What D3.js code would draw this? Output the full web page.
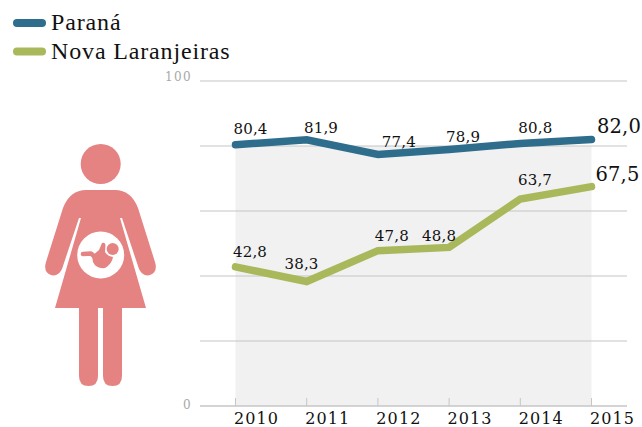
<!DOCTYPE html>
<html>
<head>
<meta charset="utf-8">
<script src="https://cdn.jsdelivr.net/npm/d3@7"></script>
<style>
html,body{margin:0;padding:0;background:#fff;overflow:hidden}
svg{display:block}
text{font-family:"Liberation Serif",serif;fill:#111}
.num{font-family:"DejaVu Serif",serif}
</style>
</head>
<body>
<svg id="c" width="642" height="427"></svg>
<script>
const years = [2010, 2011, 2012, 2013, 2014, 2015];
const parana = [80.4, 81.9, 77.4, 78.9, 80.8, 82.0];
const novaLaranjeiras = [42.8, 38.3, 47.8, 48.8, 63.7, 67.5];
const seriesNames = ["Paraná", "Nova Laranjeiras"];
const yTicks = [0, 20, 40, 60, 80, 100];
const yTickLabels = ["0", "", "", "", "", "100"];
const paranaLabelOffset = [[15,-11],[14.3,-7],[21,-7.4],[14,-8],[15,-10.7],[27.5,-7]];
const novaLabelOffset = [[14.5,-10],[-5.2,-12.5],[14,-9.6],[-10,-6.4],[14.7,-14],[26,-5.6]];

const svg = d3.select("#c");
const x = d3.scalePoint().domain(years).range([235.5, 591.5]);
const y = d3.scaleLinear().domain([0, 100]).range([406, 81]);
const fmt = v => v.toFixed(1).replace(".", ",");

svg.append("rect").attr("x", x(2010)).attr("y", y(80)).attr("width", x(2015)-x(2010)).attr("height", y(0)-y(80)).attr("fill", "#f1f1f1");

svg.selectAll("line.grid").data(yTicks).join("line").attr("class","grid")
  .attr("x1", 200).attr("x2", 627).attr("y1", d=>y(d)).attr("y2", d=>y(d))
  .attr("stroke", "#c6c6c6").attr("stroke-width", d=>d===0?1.6:1.2);

svg.selectAll("line.tick").data(years).join("line").attr("class","tick")
  .attr("x1", d=>x(d)).attr("x2", d=>x(d)).attr("y1", 398).attr("y2", 406)
  .attr("stroke", "#c6c6c6").attr("stroke-width", 1);

svg.selectAll("text.yl").data(yTicks.map((t,i)=>({t,l:yTickLabels[i]})).filter(d=>d.l)).join("text")
  .attr("class","yl num")
  .attr("x", 192).attr("y", d=>y(d.t)+(d.t?-3.5:-0.5)).attr("text-anchor","end").attr("dominant-baseline","middle")
  .attr("font-size", 12).style("fill","#a8a8a8").style("letter-spacing","1.4px").text(d=>d.l);

svg.selectAll("text.xl").data(years).join("text").attr("class","xl num")
  .attr("x", d=>x(d)+21).attr("y", 424).attr("text-anchor","middle")
  .attr("font-size", 16).style("letter-spacing","1.1px").text(d=>d);

const line = d3.line().x((d,i)=>x(years[i])).y(d=>y(d));
[[parana,"#2e6e8c"],[novaLaranjeiras,"#a9b85a"]].forEach(([vals,col])=>{
  svg.append("path").datum(vals).attr("d", line).attr("fill","none").attr("stroke",col)
    .attr("stroke-width",7.5).attr("stroke-linecap","round").attr("stroke-linejoin","miter");
});

function labels(vals, offs, cls){
  svg.selectAll("text."+cls).data(vals).join("text").attr("class",cls+" num")
    .attr("x",(d,i)=>x(years[i])+offs[i][0]).attr("y",(d,i)=>y(d)+offs[i][1])
    .attr("text-anchor","middle").attr("font-size",(d,i)=>i===5?19.5:15)
    .style("letter-spacing","0.2px").text(d=>fmt(d));
}
labels(parana, paranaLabelOffset, "lp");
labels(novaLaranjeiras, novaLabelOffset, "ln");

const legend = svg.selectAll("g.leg").data(seriesNames).join("g").attr("class","leg")
  .attr("transform",(d,i)=>`translate(0,${23+i*28.5})`);
legend.append("line").attr("x1",17).attr("x2",42).attr("stroke-width",8).attr("stroke-linecap","round")
  .attr("stroke",(d,i)=>i?"#a9b85a":"#2e6e8c");
legend.append("text").attr("x",51).attr("y",7).attr("font-size",24).style("letter-spacing","0.85px").text(d=>d);

// pregnant woman pictogram
const pink = "#e58383";
const fig = svg.append("g");
fig.append("circle").attr("cx",100.7).attr("cy",164).attr("r",20).attr("fill",pink);
fig.append("path").attr("fill",pink).attr("d",
 "M86,190 L115,190 Q131,190 138,208 L155,262 Q158,272 150,275 Q143,277 139,269 L122,218 L120,218 L146,308 L122,308 L122,376 Q122,386 112.5,386 Q103,386 103,376 L103,308 L98,308 L98,376 Q98,386 88.5,386 Q79,386 79,376 L79,308 L55,308 L81,218 L79,218 L62,269 Q58,277 51,275 Q43,272 46,262 L63,208 Q70,190 86,190 Z");
fig.append("circle").attr("cx",100.7).attr("cy",255).attr("r",23.5).attr("fill","#fff");
fig.append("circle").attr("cx",112.7).attr("cy",249).attr("r",6).attr("fill",pink);
fig.append("path").attr("fill","none").attr("stroke",pink).attr("stroke-width",4.5).attr("stroke-linecap","round").attr("stroke-linejoin","round")
  .attr("d","M83,254 L91,253.5 L96,258");
fig.append("path").attr("fill",pink)
  .attr("d","M92,256 L99,250 L102,243 Q105,242 105.5,245 L105,252 Q107,256 113,257 Q112,264 105,268 Q96,269 93,262 Z");
</script>
</body>
</html>
